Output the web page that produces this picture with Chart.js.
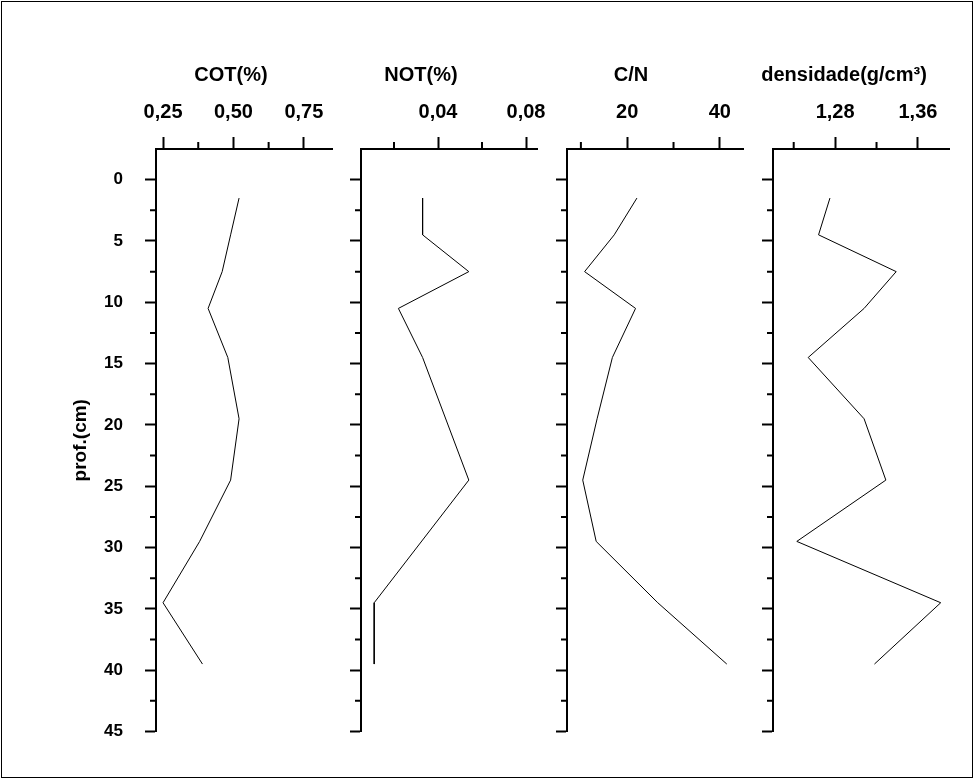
<!DOCTYPE html>
<html>
<head>
<meta charset="utf-8">
<script src="https://cdn.jsdelivr.net/npm/chart.js@4.4.1/dist/chart.umd.min.js"></script>
<style>
    body { margin: 0; background: #fff; }
    #quadro { position: relative; width: 974px; height: 780px; }
    #moldura { position: absolute; left: 1px; top: 1px; width: 972px; height: 777px; border: 1px solid #000; box-sizing: border-box; }
    #quadro canvas { position: absolute; left: 0; top: 0; }
</style>
</head>
<body>
<div id="quadro">
    <div id="moldura"></div>
    <canvas id="g0" width="974" height="780"></canvas>
    <canvas id="g1" width="974" height="780"></canvas>
    <canvas id="g2" width="974" height="780"></canvas>
    <canvas id="g3" width="974" height="780"></canvas>
</div>
<script>
// profundidade das amostras (cm)
const profundidade = [1.5, 4.5, 7.5, 10.5, 14.5, 19.5, 24.5, 29.5, 34.5, 39.5];

// séries (null = sem vértice visível)
const cot = [0.52, 0.49, 0.46, 0.41, 0.48, 0.52, 0.49, 0.38, 0.25, 0.39];
const notv = [0.033, 0.033, 0.054, 0.022, 0.033, null, 0.054, null, 0.011, 0.011];
const cn = [22.1, 17.2, 10.8, 21.8, 16.8, 13.5, 10.4, 13.3, 26.6, 41.5];
const densidade = [1.275, 1.264, 1.339, 1.308, 1.254, 1.308, 1.329, 1.243, 1.382, 1.318];

// eixos
const yTicks = [0, 5, 10, 15, 20, 25, 30, 35, 40, 45];
const yTicksMenores = [2.5, 7.5, 12.5, 17.5, 22.5, 27.5, 32.5, 37.5, 42.5];
const titulos = ['COT(%)', 'NOT(%)', 'C/N', 'densidade(g/cm³)'];

const cotTicks = [0.25, 0.5, 0.75];
const cotRotulos = ['0,25', '0,50', '0,75'];
const cotMenores = [0.375, 0.625];

const notTicks = [0.04, 0.08];
const notRotulos = ['0,04', '0,08'];
const notMenores = [0.02, 0.06];

const cnTicks = [20, 40];
const cnRotulos = ['20', '40'];
const cnMenores = [10, 30];

const denTicks = [1.28, 1.36];
const denRotulos = ['1,28', '1,36'];
const denMenores = [1.24, 1.32];

const fonte = '"Liberation Sans", Arial, sans-serif';

// traços menores e título de cada painel
const tracosMenores = {
    id: 'tracosMenores',
    afterDraw(chart, args, opts) {
        const ctx = chart.ctx;
        const xs = chart.scales.x;
        const ys = chart.scales.y;
        const area = chart.chartArea;
        ctx.save();
        ctx.strokeStyle = '#000';
        ctx.lineWidth = 2;
        ctx.beginPath();
        opts.y.forEach(v => {
            const p = ys.getPixelForValue(v);
            ctx.moveTo(area.left, p);
            ctx.lineTo(area.left - 6, p);
        });
        opts.x.forEach(v => {
            const p = xs.getPixelForValue(v);
            ctx.moveTo(p, area.top);
            ctx.lineTo(p, area.top - 7);
        });
        ctx.stroke();

        ctx.fillStyle = '#000';
        ctx.font = 'bold 20px ' + fonte;
        ctx.textAlign = 'center';
        ctx.textBaseline = 'middle';
        ctx.fillText(opts.titulo, (area.left + area.right) / 2 + opts.desvio, area.top - 74);
        ctx.restore();
    }
};

const paineis = [
    { id: 'g0', serie: cot, min: 0.225, max: 0.85, ticks: cotTicks, rotulos: cotRotulos, menores: cotMenores, esquerda: 156, desvio: -13 },
    { id: 'g1', serie: notv, min: 0.005, max: 0.085, ticks: notTicks, rotulos: notRotulos, menores: notMenores, esquerda: 361, desvio: -28 },
    { id: 'g2', serie: cn, min: 7, max: 45, ticks: cnTicks, rotulos: cnRotulos, menores: cnMenores, esquerda: 567, desvio: -24 },
    { id: 'g3', serie: densidade, min: 1.22, max: 1.39, ticks: denTicks, rotulos: denRotulos, menores: denMenores, esquerda: 773, desvio: -17 }
];

const larguraEixoY = 90;
const alturaEixoX = 60;
const largura = 176;

paineis.forEach((p, i) => {
    const pontos = profundidade
        .map((prof, k) => ({ x: p.serie[k], y: prof }))
        .filter(pt => pt.x !== null);

    new Chart(document.getElementById(p.id), {
        type: 'line',
        data: {
            datasets: [{
                data: pontos,
                borderColor: '#000',
                borderWidth: 1,
                pointRadius: 0,
                fill: false,
                tension: 0
            }]
        },
        options: {
            responsive: false,
            animation: false,
            events: [],
            layout: {
                padding: {
                    left: p.esquerda - larguraEixoY,
                    right: 974 - p.esquerda - largura,
                    top: 149 - alturaEixoX,
                    bottom: 780 - 731.5
                }
            },
            plugins: {
                legend: { display: false },
                tooltip: { enabled: false },
                tracosMenores: { x: p.menores, y: yTicksMenores, titulo: titulos[i], desvio: p.desvio }
            },
            scales: {
                x: {
                    type: 'linear',
                    position: 'top',
                    min: p.min,
                    max: p.max,
                    afterBuildTicks: s => { s.ticks = p.ticks.map(v => ({ value: v })); },
                    afterFit: s => { s.height = alturaEixoX; },
                    grid: { drawOnChartArea: false, tickLength: 12, tickWidth: 2, tickColor: '#000' },
                    border: { display: true, width: 2, color: '#000' },
                    ticks: {
                        padding: 13,
                        maxRotation: 0,
                        color: '#000',
                        font: { family: fonte, size: 20, weight: 'bold' },
                        callback: (v, idx) => p.rotulos[idx]
                    }
                },
                y: {
                    type: 'linear',
                    position: 'left',
                    reverse: true,
                    min: -2.5,
                    max: 45,
                    afterBuildTicks: s => { s.ticks = yTicks.map(v => ({ value: v })); },
                    afterFit: s => { s.width = larguraEixoY; },
                    grid: { drawOnChartArea: false, tickLength: 11, tickWidth: 2, tickColor: '#000' },
                    border: { display: true, width: 2, color: '#000' },
                    title: {
                        display: i === 0,
                        text: 'prof.(cm)',
                        color: '#000',
                        padding: { top: 3, bottom: 0 },
                        font: { family: fonte, size: 19, weight: 'bold' }
                    },
                    ticks: {
                        padding: 22,
                        color: '#000',
                        font: { family: fonte, size: 17, weight: 'bold' },
                        callback: (v, idx) => i === 0 ? String(yTicks[idx]) : ''
                    }
                }
            }
        },
        plugins: [tracosMenores]
    });
});
</script>
</body>
</html>
